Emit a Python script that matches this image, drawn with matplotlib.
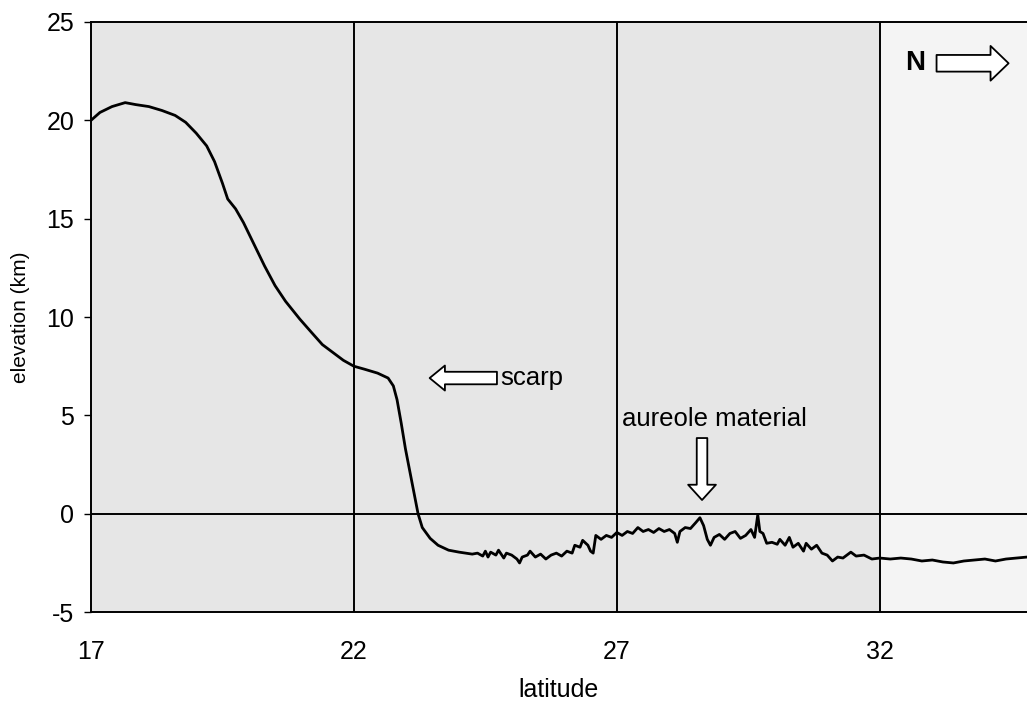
import matplotlib
matplotlib.use("Agg")
import matplotlib.pyplot as plt

plt.rcParams['font.family'] = ['Liberation Sans', 'DejaVu Sans']

lat = [17.0, 17.17, 17.4, 17.65, 17.85, 18.1, 18.35, 18.6, 18.8, 19.0, 19.2, 19.35, 19.5, 19.6,
       19.75, 19.9, 20.1, 20.3, 20.5, 20.7, 20.97, 21.2, 21.4, 21.6, 21.8, 22.0, 22.2, 22.45, 22.65,
       22.75, 22.82, 22.9, 22.98, 23.06, 23.14, 23.22, 23.3, 23.45, 23.6, 23.8, 24.0, 24.25,
       24.35, 24.45, 24.5, 24.55, 24.6, 24.7, 24.75, 24.85, 24.9, 25.0, 25.1, 25.15, 25.2, 25.3,
       25.35, 25.45, 25.55, 25.65, 25.75, 25.85, 25.95, 26.05, 26.15, 26.2, 26.3, 26.35, 26.45,
       26.5, 26.55, 26.6, 26.7, 26.8, 26.9, 27.0, 27.1, 27.2, 27.3, 27.4, 27.5, 27.6, 27.7, 27.8,
       27.9, 28.0, 28.1, 28.15, 28.2, 28.3, 28.4, 28.5, 28.58, 28.65, 28.72, 28.78, 28.85, 28.95,
       29.05, 29.15, 29.25, 29.35, 29.45, 29.55, 29.62, 29.68, 29.72, 29.78, 29.85, 29.95, 30.05,
       30.1, 30.2, 30.28, 30.35, 30.45, 30.55, 30.6, 30.7, 30.8, 30.9, 31.0, 31.1, 31.2, 31.3,
       31.45, 31.55, 31.7, 31.85, 32.0, 32.2, 32.4, 32.6, 32.8, 33.0, 33.2, 33.4, 33.6, 33.8,
       34.0, 34.2, 34.4, 34.6, 34.8]
elev = [20.0, 20.4, 20.7, 20.9, 20.8, 20.7, 20.5, 20.25, 19.9, 19.35, 18.7, 17.9, 16.8, 16.0,
        15.5, 14.8, 13.7, 12.6, 11.6, 10.8, 9.9, 9.2, 8.6, 8.2, 7.8, 7.5, 7.35, 7.15, 6.9,
        6.5, 5.8, 4.6, 3.3, 2.2, 1.1, 0.0, -0.7, -1.25, -1.6, -1.85, -1.95, -2.05,
        -2.0, -2.15, -1.9, -2.2, -1.95, -2.1, -1.85, -2.25, -2.0, -2.1, -2.3, -2.5, -2.2, -2.1,
        -1.9, -2.2, -2.05, -2.3, -2.1, -2.0, -2.15, -1.9, -2.0, -1.6, -1.7, -1.35, -1.6,
        -1.9, -2.0, -1.1, -1.3, -1.1, -1.2, -0.95, -1.1, -0.9, -1.0, -0.7, -0.9, -0.8, -0.95, -0.75,
        -0.9, -0.8, -1.0, -1.45, -0.9, -0.7, -0.75, -0.45, -0.2, -0.6, -1.3, -1.6, -1.2, -1.05,
        -1.3, -1.0, -0.9, -1.25, -1.1, -0.8, -1.2, -0.05, -0.9, -1.0, -1.5, -1.45, -1.55,
        -1.3, -1.6, -1.2, -1.7, -1.5, -1.9, -1.5, -1.8, -1.6, -2.0, -2.1, -2.4, -2.2, -2.25,
        -1.95, -2.15, -2.1, -2.3, -2.25, -2.3, -2.25, -2.3, -2.4, -2.35, -2.45, -2.5, -2.4, -2.35,
        -2.3, -2.4, -2.3, -2.25, -2.2]

x_ticks = [17, 22, 27, 32]
y_ticks = [-5, 0, 5, 10, 15, 20, 25]
grid_x = [22, 27, 32]

fig = plt.figure(figsize=(10.27, 7.02), dpi=100)
ax = fig.add_axes([0.0886, 0.128, 0.9114, 0.8407])
ax.set_facecolor('#e6e6e6')
ax.axvspan(32, 35, color='#f4f4f4', zorder=0)

for gx in grid_x:
    ax.axvline(gx, color='black', lw=1.4, zorder=1)
ax.axhline(0, color='black', lw=1.4, zorder=1)

ax.plot(lat, elev, color='black', lw=2.0, zorder=3)

ax.set_xlim(17, 34.8)
ax.set_ylim(-5, 25)
ax.set_xticks(x_ticks)
ax.set_yticks(y_ticks)
ax.set_yticklabels([str(v) for v in y_ticks])
ax.tick_params(axis='x', length=0, pad=20, labelsize=18)
ax.tick_params(axis='y', length=5, width=1, direction='out', labelsize=18, pad=7)
ax.spines['right'].set_visible(False)
for s in ['left', 'top', 'bottom']:
    ax.spines[s].set_linewidth(1.4)

ax.set_xlabel('latitude', fontsize=18, labelpad=10)
ax.set_ylabel('elevation (km)', fontsize=15, labelpad=12)

def block_arrow(start, end, hw, hl, tw):
    ax.annotate('', xy=end, xytext=start, xycoords='data', textcoords='data',
                arrowprops=dict(arrowstyle=f'simple,head_width={hw},head_length={hl},tail_width={tw}',
                                fc='white', ec='black', lw=1.3, mutation_scale=20,
                                shrinkA=0, shrinkB=0), zorder=5)

block_arrow((24.72, 6.9), (23.44, 6.9), 0.9, 0.55, 0.45)
ax.text(24.78, 6.9, 'scarp', fontsize=18.5, va='center', ha='left', zorder=6)

ax.text(28.86, 4.8, 'aureole material', fontsize=18.5, va='center', ha='center', zorder=6)
block_arrow((28.62, 3.85), (28.62, 0.7), 1.0, 0.55, 0.38)

ax.text(32.67, 22.9, 'N', fontsize=20, fontweight='bold', va='center', ha='center', zorder=6)
block_arrow((33.08, 22.9), (34.45, 22.9), 1.25, 0.65, 0.6)

fig.savefig('out.png', dpi=100)
